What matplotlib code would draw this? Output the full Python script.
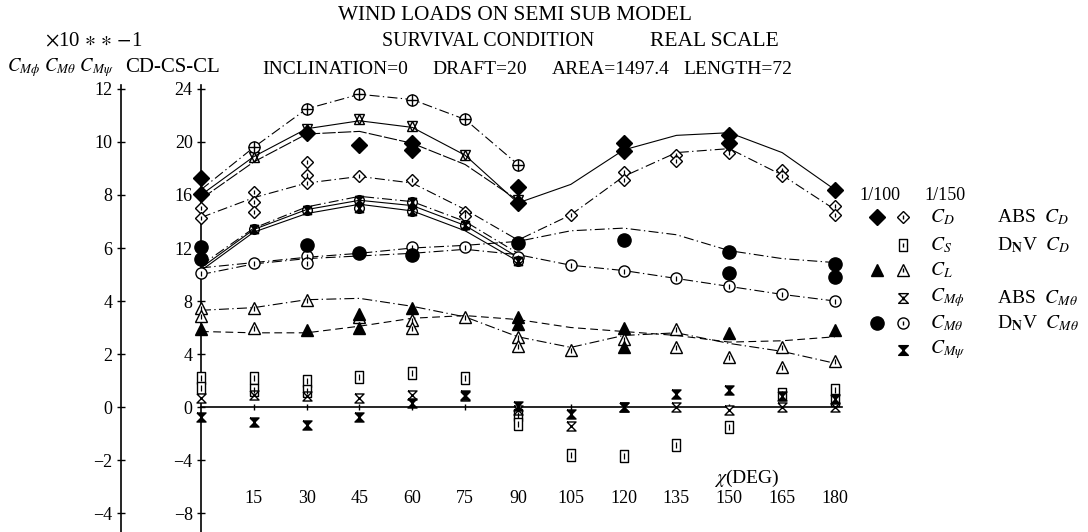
"""
Wind loads on semi sub model - survival condition, real scale.
Redraw of the scanned coefficient chart (CD, CS, CL and moment coefficients vs heading).
"""

import matplotlib
matplotlib.use("Agg")
import matplotlib.pyplot as plt

plt.rcParams['font.family'] = ['Liberation Serif', 'DejaVu Serif']
plt.rcParams['mathtext.fontset'] = 'stix'

# headings (deg)
ANGLES = [0, 15, 30, 45, 60, 75, 90, 105, 120, 135, 150, 165, 180]
ANGLES_HALF = [0, 15, 30, 45, 60, 75, 90]
TICK_ANGLES = [15, 30, 45, 60, 75, 90, 105, 120, 135, 150, 165, 180]
TICK_LABELS = [str(a) for a in TICK_ANGLES]

# all values read on the CD-CS-CL scale (left scale = half of it, x10**-1)
# --- estimated curves ---
ABS_CD_LINE = [16.0, 18.9, 21.0, 21.6, 21.1, 19.0, 15.4, 16.8, 19.4, 20.5, 20.7, 19.2, 16.4]
DNV_CD_LINE = [14.3, 15.8, 16.9, 17.4, 16.9, 14.9, 12.6, 14.5, 17.4, 19.2, 19.5, 17.5, 14.9]
CD_TOP_LINE = [16.4, 19.6, 22.5, 23.6, 23.2, 21.7, 18.3]
CD_INNER_LINE = [15.7, 18.5, 20.6, 20.8, 19.9, 18.3, 15.6]
CM_UPPER_A = [10.5, 13.4, 14.9, 15.6, 15.2, 13.7, 11.3]
CM_UPPER_B = [10.3, 13.2, 14.6, 15.3, 14.8, 13.3, 11.0]
CM_UPPER_C = [10.7, 13.5, 15.1, 15.9, 15.5, 14.0, 11.6]
ABS_CMT_LINE = [10.5, 10.9, 11.3, 11.6, 12.0, 12.2, 12.5, 13.3, 13.5, 13.0, 11.8, 11.2, 10.9]
DNV_CMT_LINE = [10.0, 10.8, 11.2, 11.4, 11.6, 11.9, 11.5, 10.7, 10.3, 9.7, 9.1, 8.5, 8.0]
CL_DASHDOT_LINE = [7.3, 7.5, 8.1, 8.2, 7.6, 6.8, 5.3, 4.5, 5.4, 5.6, 4.8, 4.2, 3.3]
CL_DASHED_LINE = [5.7, 5.6, 5.6, 6.1, 6.7, 6.9, 6.6, 6.0, 5.7, 5.4, 4.9, 5.0, 5.3]

# --- measured points ---
CD100_ANG = [0, 0, 30, 45, 60, 60, 90, 90, 120, 120, 150, 150, 180]
CD100_VAL = [16.1, 17.3, 20.7, 19.8, 19.9, 19.4, 16.6, 15.4, 19.9, 19.3, 20.5, 19.9, 16.4]

CD150_ANG = [0, 0, 15, 15, 15, 30, 30, 30, 45, 60, 75, 75, 105, 120, 120,
             135, 135, 150, 165, 165, 180, 180]
CD150_VAL = [15.0, 14.3, 16.2, 15.5, 14.7, 18.5, 17.5, 16.9, 17.4, 17.1, 14.7, 14.4, 14.5,
             17.7, 17.1, 19.0, 18.6, 19.2, 17.9, 17.4, 15.2, 14.5]

STAR_ANG = [15, 30, 45, 60, 75, 90]
STAR_VAL = [18.9, 21.0, 21.7, 21.2, 19.0, 15.6]
CROSS_ANG = [15, 30, 45, 60, 75, 90]
CROSS_VAL = [19.6, 22.5, 23.6, 23.2, 21.7, 18.3]

CMT100_ANG = [0, 0, 30, 45, 60, 90, 120, 150, 150, 180, 180]
CMT100_VAL = [12.1, 11.2, 12.2, 11.6, 11.5, 12.4, 12.6, 11.7, 10.1, 10.8, 9.8]
CMT150_ANG = [0, 15, 30, 30, 60, 75, 90, 105, 120, 135, 150, 165, 180]
CMT150_VAL = [10.1, 10.9, 11.4, 10.9, 12.1, 12.1, 11.3, 10.7, 10.3, 9.7, 9.1, 8.5, 8.0]

CMU_ANG = [15, 30, 45, 45, 60, 60, 75, 90]
CMU_VAL = [13.4, 14.9, 15.6, 15.0, 15.5, 14.8, 13.7, 11.0]

CL100_ANG = [0, 30, 45, 45, 60, 90, 90, 120, 120, 150, 180]
CL100_VAL = [5.9, 5.8, 6.0, 7.0, 7.5, 6.8, 6.3, 6.0, 4.5, 5.6, 5.8]
CL150_ANG = [0, 0, 15, 15, 30, 45, 60, 60, 75, 90, 90, 105, 120, 135, 135, 150, 165, 165, 180]
CL150_VAL = [7.5, 6.9, 7.5, 6.0, 8.1, 6.8, 6.6, 6.0, 6.8, 5.3, 4.6, 4.3, 5.1, 5.9, 4.5,
             3.8, 4.5, 3.0, 3.5]

CS_ANG = [0, 0, 15, 15, 30, 30, 45, 60, 75, 90, 90, 105, 120, 135, 150, 165, 180, 180]
CS_VAL = [2.2, 1.4, 2.2, 1.3, 2.0, 1.2, 2.3, 2.6, 2.2, -0.6, -1.3, -3.6, -3.7, -2.9, -1.5,
          1.0, 1.3, 0.5]

CMPHI_VAL = [0.7, 0.9, 0.8, 0.7, 0.9, 0.8, -0.2, -1.4, 0.0, 0.0, -0.2, 0.0, 0.0]
CMPSI_VAL = [-0.75, -1.1, -1.35, -0.75, 0.3, 0.9, 0.1, -0.5, 0.0, 1.0, 1.3, 0.8, 0.6]

# custom marker shapes
HOURGLASS = [(-1, 1), (1, 1), (-1, -1), (1, -1), (-1, 1)]
TALL_BOX = [(-0.7, -1), (0.7, -1), (0.7, 1), (-0.7, 1), (-0.7, -1)]

DASHDOT = (0, (9, 3, 1.2, 3))
DASHED = (0, (7, 4))
K = 'black'
FS = 13


def draw_curves(ax):
    lw = 0.8
    ax.plot(ANGLES, ABS_CD_LINE, color=K, lw=lw, ls='-')
    ax.plot(ANGLES, DNV_CD_LINE, color=K, lw=lw, ls=DASHDOT)
    ax.plot(ANGLES_HALF, CD_TOP_LINE, color=K, lw=lw, ls=DASHDOT)
    ax.plot(ANGLES_HALF, CD_INNER_LINE, color=K, lw=lw, ls=(0, (12, 2)))
    ax.plot(ANGLES_HALF, CM_UPPER_A, color=K, lw=lw, ls='-')
    ax.plot(ANGLES_HALF, CM_UPPER_B, color=K, lw=lw, ls='-')
    ax.plot(ANGLES_HALF, CM_UPPER_C, color=K, lw=lw, ls=DASHDOT)
    ax.plot(ANGLES, ABS_CMT_LINE, color=K, lw=lw, ls=DASHDOT)
    ax.plot(ANGLES, DNV_CMT_LINE, color=K, lw=lw, ls=DASHDOT)
    ax.plot(ANGLES, CL_DASHDOT_LINE, color=K, lw=lw, ls=DASHDOT)
    ax.plot(ANGLES, CL_DASHED_LINE, color=K, lw=lw, ls=DASHED)


def pts(ax, x, y, marker, ms, filled, tick=False, z=3):
    ax.plot(x, y, ls='none', marker=marker, ms=ms, mec=K, mew=1.0,
            mfc=K if filled else 'white', zorder=z, clip_on=False)
    if tick:
        ax.plot(x, y, ls='none', marker='|', ms=ms * 0.45, mec=K, mew=0.9, zorder=z + 0.1,
                clip_on=False)


def draw_points(ax):
    pts(ax, CS_ANG, CS_VAL, TALL_BOX, 9, False, tick=True)
    pts(ax, ANGLES, CMPHI_VAL, HOURGLASS, 6.5, False)
    pts(ax, ANGLES, CMPSI_VAL, HOURGLASS, 6.5, True, z=4)
    pts(ax, CL150_ANG, CL150_VAL, '^', 8, False, tick=True)
    pts(ax, CL100_ANG, CL100_VAL, '^', 8.5, True)
    pts(ax, CMT150_ANG, CMT150_VAL, 'o', 8, False, tick=True)
    pts(ax, CMT100_ANG, CMT100_VAL, 'o', 9.5, True)
    # open circles overlapping filled hourglasses
    pts(ax, CMU_ANG, CMU_VAL, HOURGLASS, 6, True)
    ax.plot(CMU_ANG, CMU_VAL, ls='none', marker='o', ms=7, mec=K, mfc='none', mew=1.0, zorder=4)
    pts(ax, CD150_ANG, CD150_VAL, 'D', 6.5, False, tick=True)
    pts(ax, CD100_ANG, CD100_VAL, 'D', 8.5, True)
    # star-shaped overlaps of up/down triangles
    ax.plot(STAR_ANG, STAR_VAL, ls='none', marker='^', ms=7.5, mec=K, mfc='none', mew=1.0, zorder=4)
    ax.plot(STAR_ANG, STAR_VAL, ls='none', marker='v', ms=7.5, mec=K, mfc='none', mew=1.0, zorder=4)
    # circles with a cross
    ax.plot(CROSS_ANG, CROSS_VAL, ls='none', marker='o', ms=8, mec=K, mfc='white', mew=1.0, zorder=4)
    ax.plot(CROSS_ANG, CROSS_VAL, ls='none', marker='+', ms=8, mec=K, mew=1.0, zorder=4)


def draw_labels(ov):
    ov.text(338, 15, 'WIND LOADS ON SEMI SUB MODEL', fontsize=15.3, ha='left', va='center')
    ov.text(382, 42, 'SURVIVAL CONDITION', fontsize=14.4, ha='left', va='center')
    ov.text(650, 42, 'REAL SCALE', fontsize=15.5, ha='left', va='center')
    ov.text(262, 70, 'INCLINATION=0', fontsize=14, ha='left', va='center')
    ov.text(432, 70, 'DRAFT=20', fontsize=14, ha='left', va='center')
    ov.text(552, 70, 'AREA=1497.4', fontsize=14, ha='left', va='center')
    ov.text(683, 70, 'LENGTH=72', fontsize=14, ha='left', va='center')

    ov.text(45, 42, r'$\times$10 $\ast$ $\ast$ $-$1', fontsize=15, ha='left', va='center')
    ov.text(7, 68, r'$C_{M\phi}$ $C_{M\theta}$ $C_{M\psi}$', fontsize=13.5, ha='left', va='center')
    ov.text(125, 68, 'CD-CS-CL', fontsize=15, ha='left', va='center')
    ov.text(747, 478, r'$\chi$(DEG)', fontsize=14, ha='center', va='center')


def draw_key(ov):
    ov.text(880, 195, '1/100', fontsize=13, ha='center', va='center')
    ov.text(945, 195, '1/150', fontsize=13, ha='center', va='center')
    rows = [217, 245, 270, 298, 323, 350]
    x1, x2, xt, xr = 877, 903, 930, 997

    ov.plot(x1, rows[0], marker='D', ms=8.5, color=K, ls='none')
    ov.plot(x2, rows[0], marker='D', ms=6.5, mec=K, mfc='white', ls='none')
    ov.plot(x2, rows[1], marker=TALL_BOX, ms=9, mec=K, mfc='white', ls='none')
    ov.plot(x1, rows[2], marker='^', ms=8.5, color=K, ls='none')
    ov.plot(x2, rows[2], marker='^', ms=8, mec=K, mfc='white', ls='none')
    ov.plot(x2, rows[3], marker=HOURGLASS, ms=7, mec=K, mfc='white', ls='none')
    ov.plot(x1, rows[4], marker='o', ms=9.5, color=K, ls='none')
    ov.plot(x2, rows[4], marker='o', ms=8, mec=K, mfc='white', ls='none')
    ov.plot(x2, rows[5], marker=HOURGLASS, ms=7, color=K, ls='none')
    for r in rows[:5]:
        ov.plot(x2, r, marker='|', ms=3.5, mec=K, ls='none')

    names = [r'$C_D$', r'$C_S$', r'$C_L$', r'$C_{M\phi}$', r'$C_{M\theta}$', r'$C_{M\psi}$']
    for r, name in zip(rows, names):
        ov.text(xt, r, name, fontsize=14, ha='left', va='center')

    ov.text(xr, rows[0], r'ABS  $C_D$', fontsize=14, ha='left', va='center')
    ov.text(xr, rows[1], r'D$_\mathbf{N}$V  $C_D$', fontsize=14, ha='left', va='center')
    ov.text(xr, rows[3], r'ABS  $C_{M\theta}$', fontsize=14, ha='left', va='center')
    ov.text(xr, rows[4], r'D$_\mathbf{N}$V  $C_{M\theta}$', fontsize=14, ha='left', va='center')


def main():
    fig = plt.figure(figsize=(10.88, 5.32), dpi=100)

    ax = fig.add_axes([201 / 1088, 0, 641 / 1088, 447 / 532])
    ax.set_xlim(0, 182)
    ax.set_ylim(-9.43, 24.30)
    ax.patch.set_visible(False)

    for side in ('top', 'right'):
        ax.spines[side].set_visible(False)
    ax.spines['bottom'].set_position(('data', 0))
    ax.spines['left'].set_linewidth(1.2)
    ax.spines['bottom'].set_linewidth(1.2)

    ax.set_yticks(range(-8, 25, 4))
    ax.set_xticks(TICK_ANGLES, labels=TICK_LABELS)
    ax.tick_params(axis='y', direction='inout', length=6, width=1, labelsize=FS, pad=3)
    ax.tick_params(axis='x', direction='inout', length=5, width=1, labelsize=FS, pad=57)

    sec = ax.secondary_yaxis(-80 / 641, functions=(lambda v: v / 2, lambda v: v * 2))
    sec.set_yticks(range(-4, 13, 2))
    sec.tick_params(direction='inout', length=6, width=1, labelsize=FS, pad=3)
    sec.spines['left'].set_linewidth(1.2)

    draw_curves(ax)
    draw_points(ax)

    ov = fig.add_axes([0, 0, 1, 1], zorder=-1)
    ov.set_xlim(0, 1088)
    ov.set_ylim(532, 0)
    ov.axis('off')
    draw_labels(ov)
    draw_key(ov)

    fig.savefig('out.png', dpi=100)


if __name__ == "__main__":
    main()
